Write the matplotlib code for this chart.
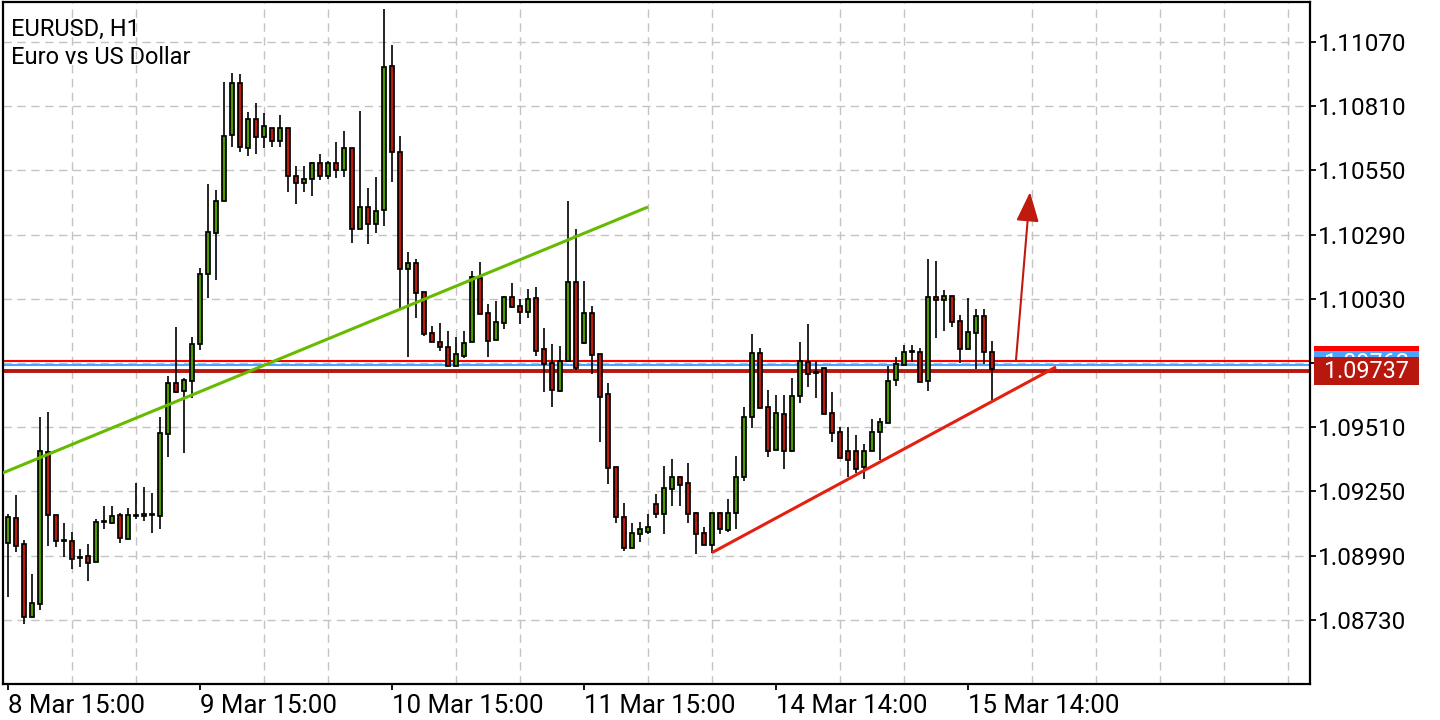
import matplotlib
matplotlib.use('Agg')
import matplotlib.pyplot as plt
import matplotlib.transforms as mtransforms
from matplotlib.patches import Rectangle
import numpy as np

plt.rcParams['font.family'] = ['Roboto', 'DejaVu Sans']

# EURUSD H1 candles, bar 0 = 8 Mar 15:00
opens = [1.09041, 1.09142, 1.09037, 1.08741, 1.08794, 1.09409, 1.09154, 1.09053, 1.09049, 1.08984,
         1.08988, 1.08964, 1.09130, 1.09122, 1.09154, 1.09057, 1.09150, 1.09150, 1.09154, 1.09150,
         1.09482, 1.09689, 1.09656, 1.09697, 1.09847, 1.10130, 1.10296, 1.10426, 1.10693, 1.10904,
         1.10641, 1.10758, 1.10685, 1.10722, 1.10669, 1.10722, 1.10527, 1.10499, 1.10515, 1.10580,
         1.10527, 1.10580, 1.10551, 1.10641, 1.10313, 1.10402, 1.10333, 1.10390, 1.10973, 1.10624,
         1.10151, 1.10175, 1.10057, 1.09891, 1.09855, 1.09835, 1.09758, 1.09798, 1.09855, 1.10114,
         1.09972, 1.09863, 1.09932, 1.10037, 1.10001, 1.09976, 1.10033, 1.09827, 1.09770, 1.09656,
         1.09778, 1.10098, 1.09851, 1.09972, 1.09806, 1.09644, 1.09349, 1.09146, 1.09021, 1.09077,
         1.09085, 1.09199, 1.09158, 1.09260, 1.09308, 1.09284, 1.09162, 1.09081, 1.09033, 1.09162,
         1.09094, 1.09162, 1.09308, 1.09551, 1.09810, 1.09592, 1.09418, 1.09563, 1.09413, 1.09636,
         1.09774, 1.09733, 1.09750, 1.09567, 1.09490, 1.09413, 1.09413, 1.09349, 1.09413, 1.09490,
         1.09527, 1.09701, 1.09762, 1.09814, 1.09814, 1.09697, 1.10037, 1.10025, 1.10041, 1.09940,
         1.09827, 1.09891, 1.09960, 1.09814]
highs = [1.09158, 1.09235, 1.09053, 1.08915, 1.09551, 1.09571, 1.09154, 1.09122, 1.09085, 1.09017,
         1.09037, 1.09138, 1.09191, 1.09191, 1.09162, 1.09183, 1.09284, 1.09268, 1.09243, 1.09551,
         1.09717, 1.09916, 1.09709, 1.09875, 1.10155, 1.10495, 1.10471, 1.10908, 1.10944, 1.10940,
         1.10786, 1.10823, 1.10782, 1.10722, 1.10774, 1.10722, 1.10568, 1.10568, 1.10584, 1.10616,
         1.10588, 1.10665, 1.10709, 1.10641, 1.10790, 1.10479, 1.10523, 1.11204, 1.11058, 1.10689,
         1.10219, 1.10191, 1.10057, 1.09920, 1.09932, 1.09899, 1.09875, 1.09899, 1.10142, 1.10179,
         1.10009, 1.10021, 1.10041, 1.10094, 1.10029, 1.10070, 1.10078, 1.09912, 1.09847, 1.09839,
         1.10426, 1.10313, 1.10102, 1.10001, 1.09806, 1.09689, 1.09349, 1.09203, 1.09122, 1.09126,
         1.09158, 1.09239, 1.09353, 1.09381, 1.09312, 1.09365, 1.09166, 1.09106, 1.09162, 1.09166,
         1.09219, 1.09393, 1.09592, 1.09887, 1.09831, 1.09661, 1.09640, 1.09640, 1.09709, 1.09855,
         1.09928, 1.09778, 1.09750, 1.09652, 1.09511, 1.09511, 1.09478, 1.09442, 1.09543, 1.09547,
         1.09758, 1.09794, 1.09843, 1.09843, 1.09831, 1.10191, 1.10183, 1.10066, 1.10041, 1.09964,
         1.10033, 1.09989, 1.09989, 1.09859]
lows = [1.08822, 1.09004, 1.08713, 1.08741, 1.08770, 1.09029, 1.09025, 1.08984, 1.08936, 1.08944,
        1.08887, 1.08964, 1.09098, 1.09118, 1.09041, 1.09057, 1.09138, 1.09130, 1.09081, 1.09098,
        1.09389, 1.09648, 1.09405, 1.09628, 1.09823, 1.10033, 1.10106, 1.10426, 1.10645, 1.10624,
        1.10608, 1.10616, 1.10641, 1.10645, 1.10645, 1.10462, 1.10414, 1.10462, 1.10446, 1.10511,
        1.10515, 1.10519, 1.10523, 1.10256, 1.10313, 1.10252, 1.10296, 1.10325, 1.10503, 1.09993,
        1.09794, 1.09952, 1.09879, 1.09855, 1.09818, 1.09758, 1.09758, 1.09790, 1.09855, 1.09968,
        1.09794, 1.09863, 1.09908, 1.09993, 1.09928, 1.09952, 1.09798, 1.09652, 1.09592, 1.09652,
        1.09778, 1.09742, 1.09847, 1.09725, 1.09450, 1.09280, 1.09122, 1.09008, 1.09021, 1.09045,
        1.09077, 1.09142, 1.09077, 1.09191, 1.09191, 1.09122, 1.08996, 1.09033, 1.09000, 1.09077,
        1.09085, 1.09098, 1.09292, 1.09507, 1.09588, 1.09389, 1.09418, 1.09341, 1.09409, 1.09608,
        1.09673, 1.09628, 1.09563, 1.09450, 1.09385, 1.09308, 1.09324, 1.09300, 1.09413, 1.09377,
        1.09527, 1.09677, 1.09762, 1.09774, 1.09693, 1.09656, 1.09871, 1.09899, 1.09916, 1.09770,
        1.09827, 1.09746, 1.09766, 1.09620]
closes = [1.09146, 1.09029, 1.08741, 1.08798, 1.09413, 1.09154, 1.09049, 1.09049, 1.08976, 1.08980,
          1.08960, 1.09126, 1.09128, 1.09150, 1.09061, 1.09154, 1.09154, 1.09158, 1.09158, 1.09486,
          1.09689, 1.09652, 1.09701, 1.09847, 1.10130, 1.10300, 1.10426, 1.10689, 1.10904, 1.10645,
          1.10758, 1.10685, 1.10730, 1.10669, 1.10722, 1.10527, 1.10499, 1.10515, 1.10580, 1.10527,
          1.10580, 1.10551, 1.10641, 1.10313, 1.10402, 1.10333, 1.10385, 1.10969, 1.10624, 1.10151,
          1.10175, 1.10053, 1.09887, 1.09855, 1.09835, 1.09758, 1.09806, 1.09851, 1.10118, 1.09968,
          1.09859, 1.09936, 1.10037, 1.09997, 1.09976, 1.10029, 1.09818, 1.09766, 1.09661, 1.09778,
          1.10098, 1.09750, 1.09972, 1.09802, 1.09632, 1.09345, 1.09146, 1.09021, 1.09081, 1.09098,
          1.09106, 1.09158, 1.09264, 1.09308, 1.09276, 1.09158, 1.09077, 1.09033, 1.09162, 1.09098,
          1.09162, 1.09308, 1.09551, 1.09810, 1.09588, 1.09413, 1.09567, 1.09413, 1.09636, 1.09778,
          1.09725, 1.09729, 1.09563, 1.09486, 1.09385, 1.09377, 1.09341, 1.09413, 1.09490, 1.09531,
          1.09697, 1.09766, 1.09814, 1.09818, 1.09693, 1.10037, 1.10025, 1.10041, 1.09936, 1.09827,
          1.09895, 1.09960, 1.09814, 1.09745]

date_ticks = [0, 24, 48, 72, 96, 120]
date_labels = ['8 Mar 15:00', '9 Mar 15:00', '10 Mar 15:00', '11 Mar 15:00',
               '14 Mar 14:00', '15 Mar 14:00']
price_ticks = [1.08730, 1.08990, 1.09250, 1.09510, 1.09770, 1.10030, 1.10290, 1.10550, 1.10810, 1.11070]
hidden_tick = 1.09770   # its label sits under the price boxes

bid = 1.09737
ask = 1.09780
mid_line = 1.09762
green_trend = ([-1, 80], [1.09320, 1.10402])
red_trend = ([88, 131], [1.09002, 1.09754])
arrow_from = (126, 1.09782)
arrow_to = (127.75, 1.10462)

UP = '#4c9900'
DOWN = '#bb1a0c'

fig = plt.figure(figsize=(14.4, 7.2), dpi=100)
ax = fig.add_axes([3 / 1440, 36 / 720, 1307 / 1440, 682 / 720])

x = np.arange(len(opens))
o = np.array(opens); c = np.array(closes)
cols = [UP if cc > oo else DOWN for oo, cc in zip(o, c)]

ax.vlines(x, lows, highs, color='black', lw=1.2, zorder=3)
ax.bar(x, c - o, bottom=o, width=0.5, color=cols, edgecolor='black', linewidth=1.25, zorder=4)

ax.plot(*green_trend, color='#66bb00', lw=2.2, zorder=5, solid_capstyle='butt')
ax.plot(*red_trend, color='#e42010', lw=2.2, zorder=5, solid_capstyle='butt')
ax.annotate('', xy=arrow_to, xytext=arrow_from,
            arrowprops=dict(arrowstyle='-|>,head_length=1.3,head_width=0.5', color='#c01a0e',
                            lw=1.5, mutation_scale=14, shrinkA=0, shrinkB=0), zorder=6)

ax.axhline(ask, color='#ff0000', lw=1.5, zorder=2)
ax.axhline(mid_line, color='#4aa3ff', lw=1.5, zorder=2)
ax.axhline(bid, color='#b8170d', lw=2.8, zorder=2)

ax.set_xlim(-0.625, 162.75)
ax.set_ylim(1.08470, 1.11232)

ax.set_xticks(date_ticks)
ax.set_xticklabels(date_labels)
for lab in ax.get_xticklabels():
    lab.set_ha('left')
ax.set_xticks(np.arange(0, 163, 8), minor=True)
ax.yaxis.tick_right()
ax.set_yticks(price_ticks)
ax.set_yticklabels(['' if p == hidden_tick else '%.5f' % p for p in price_ticks])
ax.tick_params(axis='both', which='major', direction='out', length=4, width=1.3,
               labelsize=17.5, pad=2, colors='black')
ax.tick_params(axis='x', which='minor', length=0)
ax.tick_params(axis='x', which='major', pad=3, labelsize=18.6)

ax.grid(True, which='minor', axis='x', color='#c3c3c3', lw=1, linestyle=(0, (6, 4)))
ax.grid(True, which='major', axis='y', color='#c3c3c3', lw=1, linestyle=(0, (6, 4)))
ax.set_axisbelow(True)
for sp in ax.spines.values():
    sp.set_linewidth(1.6)
    sp.set_color('black')

# price labels on the right axis (ask and mid boxes sit behind the bid box)
trans = mtransforms.blended_transform_factory(fig.transFigure, ax.transData)
box_h = 28.3 / 24700
bx0, bx1 = 1314 / 1440, 1419 / 1440
for i, (lvl, col) in enumerate([(ask, '#ff0000'), (mid_line, '#4aa3ff'), (bid, '#b8170d')]):
    ax.add_patch(Rectangle((bx0, lvl - box_h / 2), bx1 - bx0, box_h, transform=trans,
                           facecolor=col, edgecolor='none', clip_on=False, zorder=20 + i))

# only the top sliver of the mid label text shows above the bid box
strip = Rectangle((bx0, bid + box_h / 2), bx1 - bx0, (mid_line + box_h / 2) - (bid + box_h / 2),
                  transform=trans, facecolor='none', edgecolor='none')
ax.add_patch(strip)
t_mid = ax.text((bx0 + bx1) / 2, mid_line + 0.00004, '%.5f' % mid_line, transform=trans,
                color='white', fontsize=16.8, ha='center', va='center', zorder=21.5)
t_mid.set_clip_path(strip)
ax.text((bx0 + bx1) / 2, bid, '%.5f' % bid, transform=trans, color='white',
        fontsize=16.8, ha='center', va='center', zorder=22.5, clip_on=False)

fig.text(11 / 1440, 1 - 36 / 720, 'EURUSD, H1', fontsize=17, va='baseline', ha='left')
fig.text(11 / 1440, 1 - 64 / 720, 'Euro vs US Dollar', fontsize=17, va='baseline', ha='left')

fig.savefig('out.png', dpi=100, facecolor='white')
